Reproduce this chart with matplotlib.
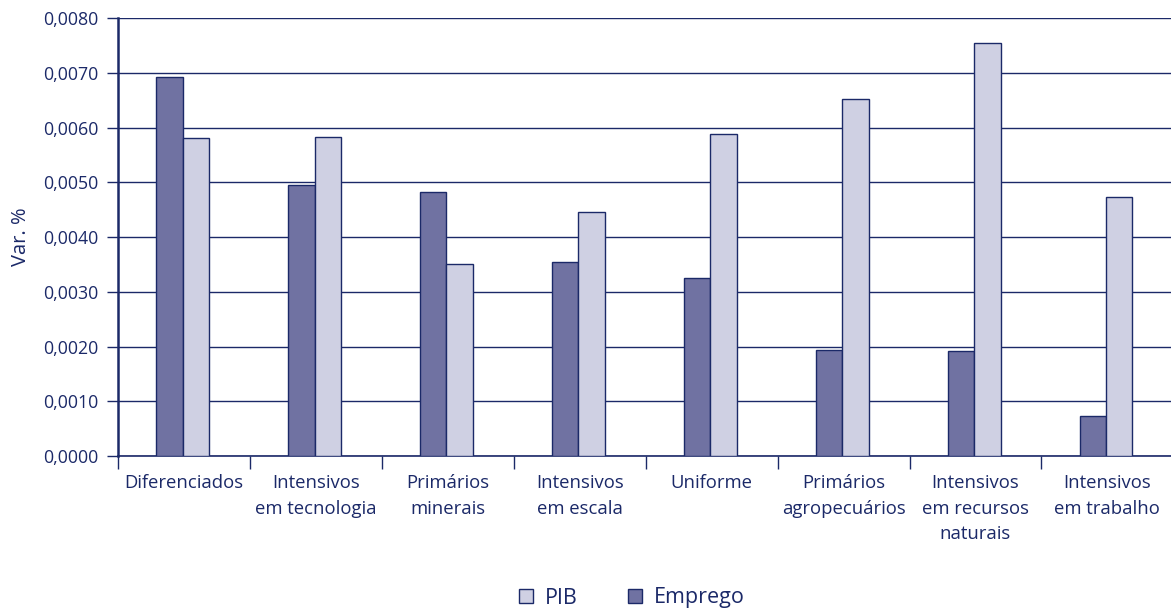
import matplotlib
matplotlib.use("Agg")
import matplotlib.pyplot as plt
from matplotlib.patches import Patch
import numpy as np

categories = [
    "Diferenciados",
    "Intensivos\nem tecnologia",
    "Primários\nminerais",
    "Intensivos\nem escala",
    "Uniforme",
    "Primários\nagropecuários",
    "Intensivos\nem recursos\nnaturais",
    "Intensivos\nem trabalho",
]
emprego = [0.00692, 0.00495, 0.00483, 0.00355, 0.00325, 0.00193, 0.00191, 0.00073]
pib = [0.00580, 0.00582, 0.00351, 0.00446, 0.00589, 0.00652, 0.00754, 0.00473]
yticks = [0.0, 0.001, 0.002, 0.003, 0.004, 0.005, 0.006, 0.007, 0.008]

navy = "#1b2968"
c_emp = "#7072a2"
c_pib = "#cfd0e3"

plt.rcParams["font.family"] = ["Open Sans", "DejaVu Sans"]

fig = plt.figure(figsize=(11.71, 6.11), dpi=100)
ax = fig.add_axes([118 / 1171, 1 - 456 / 611, 1 - 118 / 1171 + 0.002, (456 - 18) / 611])

x = np.arange(len(categories))
w = 0.2
ax.bar(x - 0.11, emprego, width=w, color=c_emp, edgecolor=navy, linewidth=1.0, zorder=3)
ax.bar(x + 0.09, pib, width=w, color=c_pib, edgecolor=navy, linewidth=1.0, zorder=3)

ax.set_xlim(-0.5, len(categories) - 0.5)
ax.set_ylim(0, 0.008)
ax.set_yticks(yticks)
ax.set_yticklabels([f"{v:.4f}".replace(".", ",") for v in yticks])
ax.yaxis.grid(True, color=navy, linewidth=1.0, zorder=0)
ax.set_axisbelow(True)

ax.set_xticks(x)
ax.set_xticklabels(categories, linespacing=1.55, va="top")
ax.set_xticks(np.arange(-0.5, len(categories), 1.0), minor=True)
ax.tick_params(axis="x", which="major", length=0, pad=13, labelsize=13.3, colors=navy)
ax.tick_params(axis="x", which="minor", length=9, width=1.0, color=navy)
ax.tick_params(axis="y", length=8, width=1.0, color=navy, labelsize=12.8, labelcolor=navy, pad=6)

for s in ["top", "right"]:
    ax.spines[s].set_visible(False)
ax.spines["left"].set_color(navy)
ax.spines["left"].set_linewidth(1.8)
ax.spines["bottom"].set_color(navy)
ax.spines["bottom"].set_linewidth(1.2)

ax.set_ylabel("Var. %", color=navy, fontsize=14.5, labelpad=9)

handles = [
    Patch(facecolor=c_pib, edgecolor=navy, linewidth=1.0, label="PIB"),
    Patch(facecolor=c_emp, edgecolor=navy, linewidth=1.0, label="Emprego"),
]
leg = fig.legend(handles=handles, loc="center", bbox_to_anchor=(632 / 1171, 1 - 598 / 611),
                 ncol=2, frameon=False, fontsize=15.5, handlelength=0.65, handleheight=0.65,
                 handletextpad=0.55, columnspacing=2.35)
for t in leg.get_texts():
    t.set_color(navy)

fig.savefig("out.png", dpi=100)
